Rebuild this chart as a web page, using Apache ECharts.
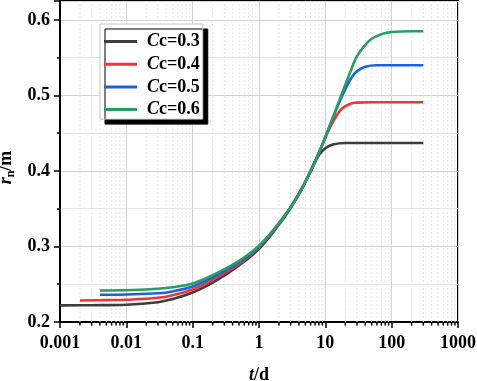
<!DOCTYPE html>
<html>
<head>
<meta charset="utf-8">
<script src="https://cdn.jsdelivr.net/npm/echarts@6/dist/echarts.min.js"></script>
<style>html,body{margin:0;padding:0;background:#fff;}#c{width:477px;height:381px;}</style>
</head>
<body>
<div id="c"></div>
<script>
// ---- data ----
const seriesNames = ['Cc=0.3', 'Cc=0.4', 'Cc=0.5', 'Cc=0.6'];
const xTickLabels = ['0.001', '0.01', '0.1', '1', '10', '100', '1000'];
const yTickLabels = ['0.2', '0.3', '0.4', '0.5', '0.6'];

const tCc03 = [0.001, 0.003, 0.01, 0.03, 0.05, 0.1, 0.2, 0.5, 1, 2, 3, 4, 5, 6, 8, 10, 13, 20, 50, 100, 300];
const rCc03 = [0.222, 0.2222, 0.2229, 0.2262, 0.2305, 0.239, 0.252, 0.275, 0.297, 0.329, 0.351, 0.369, 0.385, 0.399, 0.421, 0.430, 0.435, 0.437, 0.437, 0.437, 0.437];

const tCc04 = [0.002, 0.005, 0.01, 0.03, 0.05, 0.1, 0.2, 0.5, 1, 2, 3, 4, 5, 6, 8, 10, 12, 15, 18, 24, 30, 50, 100, 300];
const rCc04 = [0.2285, 0.229, 0.2295, 0.232, 0.2355, 0.243, 0.256, 0.277, 0.299, 0.330, 0.352, 0.370, 0.386, 0.400, 0.424, 0.444, 0.459, 0.474, 0.483, 0.489, 0.4905, 0.491, 0.491, 0.491];

const tCc05 = [0.004, 0.01, 0.03, 0.05, 0.1, 0.2, 0.5, 1, 2, 3, 4, 5, 6, 8, 10, 13, 17, 20, 25, 30, 40, 60, 100, 300];
const rCc05 = [0.236, 0.2365, 0.238, 0.2405, 0.247, 0.259, 0.279, 0.300, 0.331, 0.352, 0.370, 0.386, 0.400, 0.424, 0.445, 0.470, 0.495, 0.508, 0.524, 0.532, 0.538, 0.540, 0.540, 0.540];

const tCc06 = [0.004, 0.01, 0.03, 0.05, 0.1, 0.2, 0.5, 1, 2, 3, 4, 5, 6, 8, 10, 13, 17, 20, 25, 30, 40, 50, 70, 100, 200, 300];
const rCc06 = [0.2418, 0.242, 0.244, 0.246, 0.251, 0.262, 0.281, 0.301, 0.331, 0.352, 0.370, 0.386, 0.400, 0.424, 0.445, 0.471, 0.498, 0.514, 0.536, 0.552, 0.567, 0.575, 0.581, 0.584, 0.585, 0.585];

const colors = ['#3d3d3d', '#f0353a', '#1a62e0', '#27a05e'];

// ---- build ----
const pairs = (t, r) => t.map((v, i) => [v, r[i]]);
const allData = [pairs(tCc03, rCc03), pairs(tCc04, rCc04), pairs(tCc05, rCc05), pairs(tCc06, rCc06)];

const X_MIN = 0.001, X_MAX = 1000, Y_MIN = 0.2, Y_MAX = 0.625;
const minorX = [];
for (let e = -3; e < 3; e++) {
  for (let m = 2; m <= 9; m++) minorX.push([+(m * Math.pow(10, e)).toPrecision(3), Y_MIN]);
}

const FONT = "'Liberation Serif', 'Times New Roman', serif";

const chart = echarts.init(document.getElementById('c'), null, {renderer: 'canvas'});

const lineSeries = allData.map((d, i) => ({
  name: seriesNames[i],
  type: 'line',
  data: d,
  showSymbol: false,
  smooth: 0.4,
  lineStyle: {width: 2.6, color: colors[i]},
  itemStyle: {color: colors[i]},
  z: 5 + i
}));

const richBase = {fontFamily: FONT, fontSize: 18, fontWeight: 'bold', color: '#000'};

chart.setOption({
  animation: false,
  backgroundColor: '#fff',
  grid: {left: 60, right: 19, top: 1, bottom: 59, show: true, borderColor: '#000', borderWidth: 2,
         backgroundColor: 'transparent', outerBoundsMode: 'none', containLabel: false},
  legend: {
    data: seriesNames,
    orient: 'vertical',
    left: 100, top: 24,
    padding: [8, 3, 0, 4],
    itemGap: 3.7,
    itemWidth: 33, itemHeight: 3,
    icon: 'rect',
    backgroundColor: '#fff',
    borderColor: '#c8c8c8', borderWidth: 1,
    shadowColor: '#000', shadowOffsetX: 5, shadowOffsetY: 5, shadowBlur: 0,
    formatter: n => '{i|C}{b|' + n.slice(1) + '}',
    textStyle: {
      fontFamily: FONT, fontSize: 18, fontWeight: 'bold', color: '#000', lineHeight: 19,
      padding: [0, 0, 0, 5],
      rich: {
        i: Object.assign({}, richBase, {fontStyle: 'italic'}),
        b: richBase
      }
    }
  },
  xAxis: {
    type: 'log', logBase: 10, min: X_MIN, max: X_MAX,
    name: '{i|t}{b|/d}', nameLocation: 'middle', nameGap: 44,
    nameTextStyle: {
      rich: {
        i: Object.assign({}, richBase, {fontStyle: 'italic'}),
        b: richBase
      }
    },
    axisLine: {show: true, lineStyle: {color: '#000', width: 2}},
    axisTick: {show: true, length: 6, lineStyle: {color: '#000', width: 1.5}},
    axisLabel: {
      fontFamily: FONT, fontSize: 18, fontWeight: 'bold', color: '#000', margin: 12,
      formatter: v => {
        const e = Math.round(Math.log10(v));
        return xTickLabels[e + 3] || '';
      }
    },
    splitLine: {show: true, lineStyle: {color: '#d2d2d2', width: 1}}
  },
  yAxis: {
    type: 'value', min: Y_MIN, max: Y_MAX, interval: 0.1,
    name: '{i|r}{s|n}{b|/m}', nameLocation: 'middle', nameGap: 42, nameRotate: 90,
    nameTextStyle: {
      padding: [0, 12, 0, 0],
      rich: {
        i: Object.assign({}, richBase, {fontStyle: 'italic'}),
        s: Object.assign({}, richBase, {fontSize: 12, padding: [8, 0, 0, 0]}),
        b: richBase
      }
    },
    axisLine: {show: true, lineStyle: {color: '#000', width: 2}},
    axisTick: {show: true, length: 6, lineStyle: {color: '#000', width: 1.5}},
    minorTick: {show: true, splitNumber: 2, length: 3, lineStyle: {color: '#000', width: 1.5}},
    minorSplitLine: {show: true, lineStyle: {color: '#e6e6e6', width: 1}},
    axisLabel: {
      fontFamily: FONT, fontSize: 18, fontWeight: 'bold', color: '#000', margin: 10,
      showMaxLabel: false,
      formatter: v => {
        const i = Math.round((v - Y_MIN) * 10);
        return Math.abs(v - (Y_MIN + i / 10)) < 1e-6 ? (yTickLabels[i] || '') : '';
      }
    },
    splitLine: {show: true, lineStyle: {color: '#d2d2d2', width: 1}}
  },
  series: [{
    type: 'custom',
    name: 'minorX',
    silent: true,
    z: 1,
    clip: false,
    data: minorX,
    renderItem: (params, api) => {
      const v = api.value(0);
      const p0 = api.coord([v, Y_MIN]);
      const p1 = api.coord([v, Y_MAX]);
      return {
        type: 'group',
        children: [
          {type: 'line', shape: {x1: p0[0], y1: p0[1], x2: p1[0], y2: p1[1]}, style: {stroke: '#e6e6e6', lineWidth: 1, lineDash: [2, 2]}},
          {type: 'line', shape: {x1: p0[0], y1: p0[1], x2: p0[0], y2: p0[1] + 3.5}, style: {stroke: '#000', lineWidth: 1.5}}
        ]
      };
    }
  }].concat(lineSeries)
});
</script>
</body>
</html>
